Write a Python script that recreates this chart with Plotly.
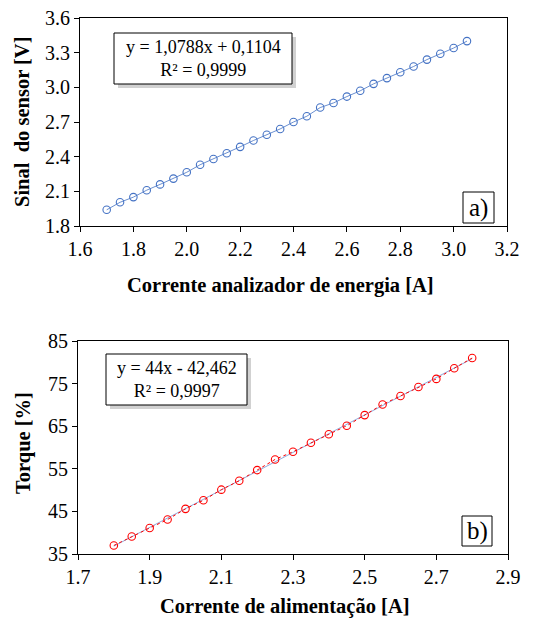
import numpy as np
import plotly.graph_objects as go

W, H = 548, 620

# ---- data (a) ----
a_x = [1.70, 1.75, 1.80, 1.85, 1.90, 1.95, 2.00, 2.05, 2.10, 2.15, 2.20, 2.25, 2.30, 2.35,
       2.40, 2.45, 2.50, 2.55, 2.60, 2.65, 2.70, 2.75, 2.80, 2.85, 2.90, 2.95, 3.00, 3.05]
a_y = [1.94, 2.005, 2.05, 2.11, 2.16, 2.21, 2.265, 2.33, 2.38, 2.43, 2.485, 2.54, 2.59, 2.64,
       2.70, 2.75, 2.825, 2.865, 2.92, 2.97, 3.03, 3.08, 3.13, 3.18, 3.24, 3.29, 3.34, 3.40]
a_eq = "y = 1,0788x + 0,1104<br>R² = 0,9999"
a_xticks = [1.6, 1.8, 2.0, 2.2, 2.4, 2.6, 2.8, 3.0, 3.2]
a_yticks = [1.8, 2.1, 2.4, 2.7, 3.0, 3.3, 3.6]

# ---- data (b) ----
b_x = [1.80, 1.85, 1.90, 1.95, 2.00, 2.05, 2.10, 2.15, 2.20, 2.25, 2.30,
       2.35, 2.40, 2.45, 2.50, 2.55, 2.60, 2.65, 2.70, 2.75, 2.80]
b_y = [37.0, 39.1, 41.1, 43.1, 45.6, 47.6, 50.1, 52.2, 54.7, 57.2, 59.0,
       61.1, 63.1, 65.1, 67.6, 70.1, 72.1, 74.2, 76.1, 78.6, 81.0]
b_eq = "y = 44x - 42,462<br>R² = 0,9997"
b_xticks = [1.7, 1.9, 2.1, 2.3, 2.5, 2.7, 2.9]
b_yticks = [35, 45, 55, 65, 75, 85]

FONT = "'Liberation Serif', 'Times New Roman', Times, serif"
BLUE = "#4472C4"
RED = "#FF0000"

def px(x):
    return x / W

def py(y):
    return 1 - y / H

fig = go.Figure()

# (a) series
fig.add_trace(go.Scatter(x=a_x, y=a_y, mode="lines+markers",
                         line=dict(color=BLUE, width=0.8),
                         marker=dict(symbol="circle-open", size=7.5, color=BLUE, line=dict(width=1.1)),
                         xaxis="x", yaxis="y", showlegend=False))

# (b) trendline from fit + series
coef = np.polyfit(b_x, b_y, 1)
tx = [b_x[0], b_x[-1]]
fig.add_trace(go.Scatter(x=tx, y=[coef[0] * v + coef[1] for v in tx], mode="lines",
                         line=dict(color="#8FAADC", width=1),
                         xaxis="x2", yaxis="y2", showlegend=False))
fig.add_trace(go.Scatter(x=b_x, y=b_y, mode="lines+markers",
                         line=dict(color=RED, width=1, dash="dot"),
                         marker=dict(symbol="circle-open", size=7.5, color=RED, line=dict(width=1.1)),
                         xaxis="x2", yaxis="y2", showlegend=False))

axis_common = dict(showgrid=False, zeroline=False, showline=True, linecolor="black",
                   linewidth=1, mirror=True, ticks="outside", ticklen=5, tickcolor="black",
                   automargin=False,
                   tickfont=dict(family=FONT, size=20, color="black"))

fig.update_layout(
    width=W, height=H, margin=dict(l=0, r=0, t=0, b=0),
    paper_bgcolor="white", plot_bgcolor="white",
    font=dict(family=FONT),
    xaxis=dict(domain=[px(80), px(507)], range=[1.6, 3.2], tickvals=a_xticks,
               tickformat=".1f", anchor="y", **axis_common),
    yaxis=dict(domain=[py(226), py(18)], range=[1.8, 3.6], tickvals=a_yticks,
               tickformat=".1f", anchor="x", **axis_common),
    xaxis2=dict(domain=[px(78), px(508)], range=[1.7, 2.9], tickvals=b_xticks,
                tickformat=".1f", anchor="y2", **axis_common),
    yaxis2=dict(domain=[py(554), py(341)], range=[35, 85], tickvals=b_yticks,
                anchor="x2", **axis_common),
)

title_font = dict(family=FONT, size=20.5, color="black")
anns = [
    dict(text="<b>Sinal  do sensor [V]</b>", x=px(22), y=py(122), textangle=-90),
    dict(text="<b>Corrente analizador de energia [A]</b>", x=px(280), y=py(285)),
    dict(text="<b>Torque [%]</b>", x=px(23), y=py(443), textangle=-90),
    dict(text="<b>Corrente de alimentação [A]</b>", x=px(285), y=py(606)),
]
for a in anns:
    fig.add_annotation(xref="paper", yref="paper", showarrow=False, font=title_font,
                       xanchor="center", yanchor="middle", **a)

# equation boxes with shadow
def eq_box(x0, y0, x1, y1, text):
    fig.add_shape(type="rect", xref="paper", yref="paper",
                  x0=px(x0 + 4), x1=px(x1 + 4), y0=py(y1 + 4), y1=py(y0 + 4),
                  fillcolor="rgba(0,0,0,0.18)", line=dict(width=0), layer="below")
    fig.add_shape(type="rect", xref="paper", yref="paper",
                  x0=px(x0), x1=px(x1), y0=py(y1), y1=py(y0),
                  fillcolor="white", line=dict(color="black", width=1))
    fig.add_annotation(xref="paper", yref="paper", showarrow=False,
                       x=px((x0 + x1) / 2), y=py((y0 + y1) / 2), xanchor="center", yanchor="middle",
                       text=text, align="center", font=dict(family=FONT, size=18, color="black"))

eq_box(114, 33, 292, 84, a_eq)
eq_box(106, 354, 247, 405, b_eq)

def label_box(x0, y0, x1, y1, text):
    fig.add_shape(type="rect", xref="paper", yref="paper",
                  x0=px(x0), x1=px(x1), y0=py(y1), y1=py(y0),
                  fillcolor="white", line=dict(color="black", width=1))
    fig.add_annotation(xref="paper", yref="paper", showarrow=False,
                       x=px((x0 + x1) / 2), y=py((y0 + y1) / 2), xanchor="center", yanchor="middle",
                       text=text, font=dict(family=FONT, size=25, color="black"))

label_box(463, 192, 494, 223, "a)")
label_box(462, 516, 492, 546, "b)")

fig.write_html("out.html", config={"displayModeBar": False},
               post_script="document.body.style.margin='0';document.body.style.overflow='hidden';")
